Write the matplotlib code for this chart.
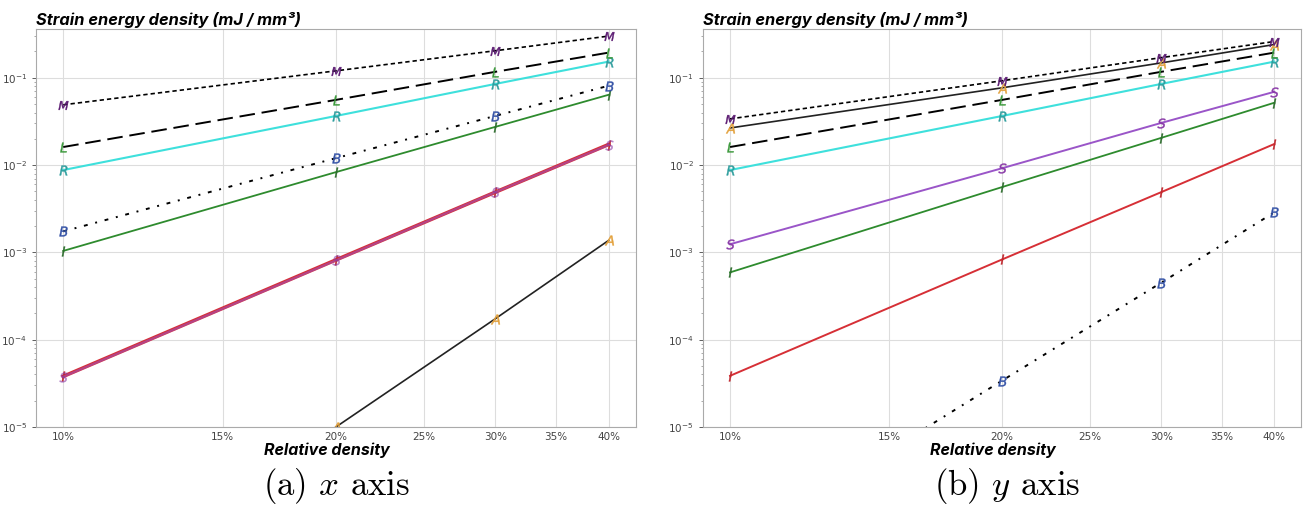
import matplotlib.pyplot as plt
from matplotlib.ticker import FixedLocator, FixedFormatter, NullLocator, LogLocator

plt.rcParams['mathtext.fontset'] = 'dejavusans'

# Relative density of the lattice samples
density = [0.10, 0.20, 0.30, 0.40]
density_ticks = [0.10, 0.15, 0.20, 0.25, 0.30, 0.35, 0.40]
density_labels = ['10%', '15%', '20%', '25%', '30%', '35%', '40%']

# Strain energy density (mJ/mm^3), loading along x
x_M = [0.049, 0.120, 0.204, 0.300]
x_L = [0.0161, 0.0558, 0.117, 0.194]
x_R = [0.00877, 0.0365, 0.085, 0.153]
x_B = [0.00174, 0.0120, 0.0366, 0.081]
x_I = [0.00104, 0.0083, 0.0274, 0.0638]
x_S = [3.76e-5, 8.1e-4, 0.0049, 0.0170]
x_Ir = [3.8e-5, 8.2e-4, 0.0049, 0.0172]
x_A = [8.0e-8, 1.0e-5, 1.74e-4, 1.37e-3]

# Strain energy density (mJ/mm^3), loading along y
y_M = [0.0338, 0.0924, 0.170, 0.260]
y_A = [0.0266, 0.0767, 0.148, 0.240]
y_L = [0.0161, 0.0558, 0.117, 0.194]
y_R = [0.00877, 0.0365, 0.085, 0.153]
y_S = [0.00124, 0.0092, 0.0304, 0.069]
y_I = [5.9e-4, 0.0056, 0.0205, 0.0517]
y_Ir = [3.86e-5, 8.3e-4, 0.0049, 0.0174]
y_B = [4.0e-7, 3.4e-5, 4.5e-4, 2.87e-3]

# line style, line colour, letter, letter colour, width
styles = {
    'M': ((0, (2.6, 1.8)), 'black', 'M', '#5b1a72', 1.2),
    'L': ((0, (8, 3.5)), 'black', 'L', '#3d9a3d', 1.4),
    'R': ('-', '#3ee0dc', 'R', '#2f9e9e', 1.5),
    'B': ((0, (2, 4, 1, 4)), 'black', 'B', '#3452a6', 1.4),
    'I': ('-', '#2e8b2e', 'I', '#2e6e2e', 1.3),
    'S': ('-', '#9a55c8', 'S', '#8a3aa8', 1.4),
    'Ir': ('-', '#d62f36', 'I', '#c0282e', 1.4),
    'A': ('-', '#222222', 'A', '#e3a13c', 1.2),
}


def draw(ax, key, values, lw=None, alpha=1.0):
    ls, color, letter, mcolor, width = styles[key]
    ax.plot(density, values, linestyle=ls, color=color, lw=lw or width, alpha=alpha,
            marker=f'${letter}$', markersize=7, markerfacecolor=mcolor,
            markeredgecolor=mcolor, markeredgewidth=0.3)


def style_axes(ax):
    ax.set_xscale('log')
    ax.set_yscale('log')
    ax.set_ylim(1e-5, 0.36)
    ax.set_xlim(0.1 / 2 ** 0.1, 0.4 * 2 ** 0.1)
    ax.xaxis.set_major_locator(FixedLocator(density_ticks))
    ax.xaxis.set_major_formatter(FixedFormatter(density_labels))
    ax.xaxis.set_minor_locator(NullLocator())
    ax.yaxis.set_minor_locator(LogLocator(base=10, subs=range(2, 10)))
    ax.tick_params(axis='both', which='major', labelsize=7.5, colors='#444444',
                   length=3, width=0.6)
    ax.tick_params(axis='y', which='minor', length=1.8, width=0.5, colors='#888888')
    ax.tick_params(axis='x', which='major', length=0)
    ax.grid(True, which='major', color='#dddddd', lw=0.8)
    ax.set_axisbelow(True)
    for sp in ax.spines.values():
        sp.set_color('#aaaaaa')
        sp.set_linewidth(0.8)
    ax.text(0.0, 1.004, 'Strain energy density (mJ / mm³)', transform=ax.transAxes,
            fontsize=11.8, fontweight='bold', fontstyle='italic', family='Inter',
            ha='left', va='bottom')
    ax.text(0.485, -0.038, 'Relative density', transform=ax.transAxes,
            fontsize=11.5, fontweight='bold', fontstyle='italic', family='Inter',
            ha='center', va='top')


fig = plt.figure(figsize=(13.04, 5.12), dpi=100)
ax1 = fig.add_axes([0.0276, 0.166, 0.460, 0.777])
ax2 = fig.add_axes([0.539, 0.166, 0.459, 0.777])

# x direction
draw(ax1, 'A', x_A)
draw(ax1, 'Ir', x_Ir, lw=2.6)
draw(ax1, 'S', x_S, lw=1.6, alpha=0.55)
draw(ax1, 'I', x_I)
draw(ax1, 'B', x_B)
draw(ax1, 'R', x_R)
draw(ax1, 'L', x_L)
draw(ax1, 'M', x_M)

# y direction
draw(ax2, 'B', y_B)
draw(ax2, 'Ir', y_Ir)
draw(ax2, 'I', y_I)
draw(ax2, 'S', y_S)
draw(ax2, 'R', y_R)
draw(ax2, 'L', y_L)
draw(ax2, 'A', y_A)
draw(ax2, 'M', y_M)

for ax in (ax1, ax2):
    style_axes(ax)

fig.text(0.258, 0.05, r'(a) $x$ axis', fontsize=25, family='cmr10',
         ha='center', va='center', math_fontfamily='cm')
fig.text(0.772, 0.05, r'(b) $y$ axis', fontsize=25, family='cmr10',
         ha='center', va='center', math_fontfamily='cm')

fig.savefig('out.png', dpi=100)
